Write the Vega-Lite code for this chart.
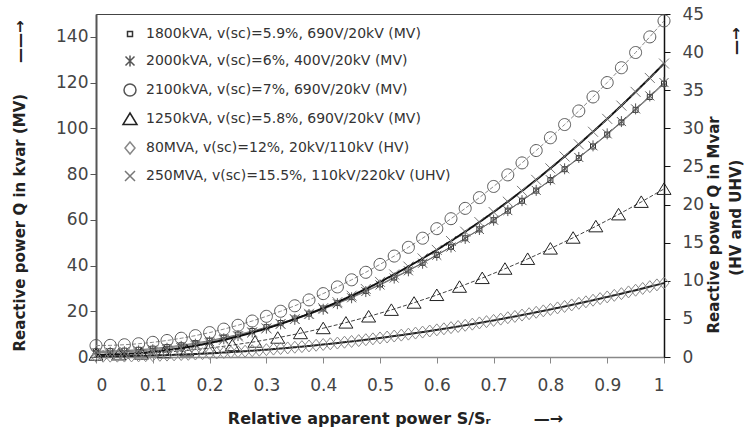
{
"$schema": "https://vega.github.io/schema/vega-lite/v6.json",
"width": 568, "height": 343,
"autosize": {"type": "none"},
"padding": {"left": 96, "top": 14, "right": 86, "bottom": 83},
"background": "white",
"config": {"font": "DejaVu Sans", "view": {"stroke": "#444", "strokeWidth": 1}, "axis": {"grid": false},
  "legend": {"labelLimit": 500}},
"data": {"values": [
{"k":"a","s":0,"q":2.5},{"k":"a","s":0.025,"q":2.57},{"k":"a","s":0.05,"q":2.79},{"k":"a","s":0.075,"q":3.16},{"k":"a","s":0.1,"q":3.67},{"k":"a","s":0.125,"q":4.33},{"k":"a","s":0.15,"q":5.13},{"k":"a","s":0.175,"q":6.08},{"k":"a","s":0.2,"q":7.18},{"k":"a","s":0.225,"q":8.42},{"k":"a","s":0.25,"q":9.81},{"k":"a","s":0.275,"q":11.35},{"k":"a","s":0.3,"q":13.03},{"k":"a","s":0.325,"q":14.86},{"k":"a","s":0.35,"q":16.83},{"k":"a","s":0.375,"q":18.95},{"k":"a","s":0.4,"q":21.22},{"k":"a","s":0.425,"q":23.63},{"k":"a","s":0.45,"q":26.19},{"k":"a","s":0.475,"q":28.9},{"k":"a","s":0.5,"q":31.75},{"k":"a","s":0.525,"q":34.75},{"k":"a","s":0.55,"q":37.89},{"k":"a","s":0.575,"q":41.18},{"k":"a","s":0.6,"q":44.62},{"k":"a","s":0.625,"q":48.2},{"k":"a","s":0.65,"q":51.93},{"k":"a","s":0.675,"q":55.81},{"k":"a","s":0.7,"q":59.83},{"k":"a","s":0.725,"q":64},{"k":"a","s":0.75,"q":68.31},{"k":"a","s":0.775,"q":72.77},{"k":"a","s":0.8,"q":77.38},{"k":"a","s":0.825,"q":82.13},{"k":"a","s":0.85,"q":87.03},{"k":"a","s":0.875,"q":92.08},{"k":"a","s":0.9,"q":97.27},{"k":"a","s":0.925,"q":102.61},{"k":"a","s":0.95,"q":108.09},{"k":"a","s":0.975,"q":113.72},{"k":"a","s":1,"q":119.5},
{"k":"b","s":0,"q":2},{"k":"b","s":0.025,"q":2.07},{"k":"b","s":0.05,"q":2.3},{"k":"b","s":0.075,"q":2.66},{"k":"b","s":0.1,"q":3.18},{"k":"b","s":0.125,"q":3.84},{"k":"b","s":0.15,"q":4.66},{"k":"b","s":0.175,"q":5.61},{"k":"b","s":0.2,"q":6.72},{"k":"b","s":0.225,"q":7.97},{"k":"b","s":0.25,"q":9.38},{"k":"b","s":0.275,"q":10.92},{"k":"b","s":0.3,"q":12.62},{"k":"b","s":0.325,"q":14.46},{"k":"b","s":0.35,"q":16.46},{"k":"b","s":0.375,"q":18.59},{"k":"b","s":0.4,"q":20.88},{"k":"b","s":0.425,"q":23.31},{"k":"b","s":0.45,"q":25.9},{"k":"b","s":0.475,"q":28.62},{"k":"b","s":0.5,"q":31.5},{"k":"b","s":0.525,"q":34.52},{"k":"b","s":0.55,"q":37.7},{"k":"b","s":0.575,"q":41.01},{"k":"b","s":0.6,"q":44.48},{"k":"b","s":0.625,"q":48.09},{"k":"b","s":0.65,"q":51.86},{"k":"b","s":0.675,"q":55.76},{"k":"b","s":0.7,"q":59.82},{"k":"b","s":0.725,"q":64.02},{"k":"b","s":0.75,"q":68.38},{"k":"b","s":0.775,"q":72.87},{"k":"b","s":0.8,"q":77.52},{"k":"b","s":0.825,"q":82.31},{"k":"b","s":0.85,"q":87.26},{"k":"b","s":0.875,"q":92.34},{"k":"b","s":0.9,"q":97.58},{"k":"b","s":0.925,"q":102.96},{"k":"b","s":0.95,"q":108.5},{"k":"b","s":0.975,"q":114.17},{"k":"b","s":1,"q":120},
{"k":"c","s":0,"q":5},{"k":"c","s":0.025,"q":5.09},{"k":"c","s":0.05,"q":5.36},{"k":"c","s":0.075,"q":5.8},{"k":"c","s":0.1,"q":6.42},{"k":"c","s":0.125,"q":7.22},{"k":"c","s":0.15,"q":8.2},{"k":"c","s":0.175,"q":9.35},{"k":"c","s":0.2,"q":10.68},{"k":"c","s":0.225,"q":12.19},{"k":"c","s":0.25,"q":13.88},{"k":"c","s":0.275,"q":15.74},{"k":"c","s":0.3,"q":17.78},{"k":"c","s":0.325,"q":20},{"k":"c","s":0.35,"q":22.4},{"k":"c","s":0.375,"q":24.97},{"k":"c","s":0.4,"q":27.72},{"k":"c","s":0.425,"q":30.65},{"k":"c","s":0.45,"q":33.76},{"k":"c","s":0.475,"q":37.04},{"k":"c","s":0.5,"q":40.5},{"k":"c","s":0.525,"q":44.14},{"k":"c","s":0.55,"q":47.96},{"k":"c","s":0.575,"q":51.95},{"k":"c","s":0.6,"q":56.12},{"k":"c","s":0.625,"q":60.47},{"k":"c","s":0.65,"q":65},{"k":"c","s":0.675,"q":69.7},{"k":"c","s":0.7,"q":74.58},{"k":"c","s":0.725,"q":79.64},{"k":"c","s":0.75,"q":84.88},{"k":"c","s":0.775,"q":90.29},{"k":"c","s":0.8,"q":95.88},{"k":"c","s":0.825,"q":101.65},{"k":"c","s":0.85,"q":107.6},{"k":"c","s":0.875,"q":113.72},{"k":"c","s":0.9,"q":120.02},{"k":"c","s":0.925,"q":126.5},{"k":"c","s":0.95,"q":133.16},{"k":"c","s":0.975,"q":139.99},{"k":"c","s":1,"q":147},
{"k":"d","s":0,"q":1},{"k":"d","s":0.04,"q":1.12},{"k":"d","s":0.08,"q":1.46},{"k":"d","s":0.12,"q":2.04},{"k":"d","s":0.16,"q":2.86},{"k":"d","s":0.2,"q":3.9},{"k":"d","s":0.24,"q":5.18},{"k":"d","s":0.28,"q":6.68},{"k":"d","s":0.32,"q":8.42},{"k":"d","s":0.36,"q":10.4},{"k":"d","s":0.4,"q":12.6},{"k":"d","s":0.44,"q":15.04},{"k":"d","s":0.48,"q":17.7},{"k":"d","s":0.52,"q":20.6},{"k":"d","s":0.56,"q":23.74},{"k":"d","s":0.6,"q":27.1},{"k":"d","s":0.64,"q":30.7},{"k":"d","s":0.68,"q":34.52},{"k":"d","s":0.72,"q":38.58},{"k":"d","s":0.76,"q":42.88},{"k":"d","s":0.8,"q":47.4},{"k":"d","s":0.84,"q":52.16},{"k":"d","s":0.88,"q":57.14},{"k":"d","s":0.92,"q":62.36},{"k":"d","s":0.96,"q":67.82},{"k":"d","s":1,"q":73.5},
{"k":"e","s":0,"q":0.1},{"k":"e","s":0.0125,"q":0.1},{"k":"e","s":0.025,"q":0.11},{"k":"e","s":0.0375,"q":0.11},{"k":"e","s":0.05,"q":0.12},{"k":"e","s":0.0625,"q":0.14},{"k":"e","s":0.075,"q":0.15},{"k":"e","s":0.0875,"q":0.17},{"k":"e","s":0.1,"q":0.2},{"k":"e","s":0.1125,"q":0.22},{"k":"e","s":0.125,"q":0.25},{"k":"e","s":0.1375,"q":0.28},{"k":"e","s":0.15,"q":0.32},{"k":"e","s":0.1625,"q":0.35},{"k":"e","s":0.175,"q":0.39},{"k":"e","s":0.1875,"q":0.44},{"k":"e","s":0.2,"q":0.48},{"k":"e","s":0.2125,"q":0.53},{"k":"e","s":0.225,"q":0.59},{"k":"e","s":0.2375,"q":0.64},{"k":"e","s":0.25,"q":0.7},{"k":"e","s":0.2625,"q":0.76},{"k":"e","s":0.275,"q":0.83},{"k":"e","s":0.2875,"q":0.89},{"k":"e","s":0.3,"q":0.96},{"k":"e","s":0.3125,"q":1.04},{"k":"e","s":0.325,"q":1.11},{"k":"e","s":0.3375,"q":1.19},{"k":"e","s":0.35,"q":1.28},{"k":"e","s":0.3625,"q":1.36},{"k":"e","s":0.375,"q":1.45},{"k":"e","s":0.3875,"q":1.54},{"k":"e","s":0.4,"q":1.64},{"k":"e","s":0.4125,"q":1.73},{"k":"e","s":0.425,"q":1.83},{"k":"e","s":0.4375,"q":1.94},{"k":"e","s":0.45,"q":2.04},{"k":"e","s":0.4625,"q":2.15},{"k":"e","s":0.475,"q":2.27},{"k":"e","s":0.4875,"q":2.38},{"k":"e","s":0.5,"q":2.5},{"k":"e","s":0.5125,"q":2.62},{"k":"e","s":0.525,"q":2.75},{"k":"e","s":0.5375,"q":2.87},{"k":"e","s":0.55,"q":3},{"k":"e","s":0.5625,"q":3.14},{"k":"e","s":0.575,"q":3.27},{"k":"e","s":0.5875,"q":3.41},{"k":"e","s":0.6,"q":3.56},{"k":"e","s":0.6125,"q":3.7},{"k":"e","s":0.625,"q":3.85},{"k":"e","s":0.6375,"q":4},{"k":"e","s":0.65,"q":4.16},{"k":"e","s":0.6625,"q":4.31},{"k":"e","s":0.675,"q":4.47},{"k":"e","s":0.6875,"q":4.64},{"k":"e","s":0.7,"q":4.8},{"k":"e","s":0.7125,"q":4.97},{"k":"e","s":0.725,"q":5.15},{"k":"e","s":0.7375,"q":5.32},{"k":"e","s":0.75,"q":5.5},{"k":"e","s":0.7625,"q":5.68},{"k":"e","s":0.775,"q":5.87},{"k":"e","s":0.7875,"q":6.05},{"k":"e","s":0.8,"q":6.24},{"k":"e","s":0.8125,"q":6.44},{"k":"e","s":0.825,"q":6.63},{"k":"e","s":0.8375,"q":6.83},{"k":"e","s":0.85,"q":7.04},{"k":"e","s":0.8625,"q":7.24},{"k":"e","s":0.875,"q":7.45},{"k":"e","s":0.8875,"q":7.66},{"k":"e","s":0.9,"q":7.88},{"k":"e","s":0.9125,"q":8.09},{"k":"e","s":0.925,"q":8.31},{"k":"e","s":0.9375,"q":8.54},{"k":"e","s":0.95,"q":8.76},{"k":"e","s":0.9625,"q":8.99},{"k":"e","s":0.975,"q":9.23},{"k":"e","s":0.9875,"q":9.46},{"k":"e","s":1,"q":9.7},
{"k":"f","s":0,"q":0.3},{"k":"f","s":0.025,"q":0.32},{"k":"f","s":0.05,"q":0.4},{"k":"f","s":0.075,"q":0.51},{"k":"f","s":0.1,"q":0.68},{"k":"f","s":0.125,"q":0.9},{"k":"f","s":0.15,"q":1.16},{"k":"f","s":0.175,"q":1.47},{"k":"f","s":0.2,"q":1.83},{"k":"f","s":0.225,"q":2.23},{"k":"f","s":0.25,"q":2.69},{"k":"f","s":0.275,"q":3.19},{"k":"f","s":0.3,"q":3.74},{"k":"f","s":0.325,"q":4.33},{"k":"f","s":0.35,"q":4.98},{"k":"f","s":0.375,"q":5.67},{"k":"f","s":0.4,"q":6.41},{"k":"f","s":0.425,"q":7.2},{"k":"f","s":0.45,"q":8.04},{"k":"f","s":0.475,"q":8.92},{"k":"f","s":0.5,"q":9.85},{"k":"f","s":0.525,"q":10.83},{"k":"f","s":0.55,"q":11.86},{"k":"f","s":0.575,"q":12.93},{"k":"f","s":0.6,"q":14.05},{"k":"f","s":0.625,"q":15.22},{"k":"f","s":0.65,"q":16.44},{"k":"f","s":0.675,"q":17.7},{"k":"f","s":0.7,"q":19.02},{"k":"f","s":0.725,"q":20.38},{"k":"f","s":0.75,"q":21.79},{"k":"f","s":0.775,"q":23.24},{"k":"f","s":0.8,"q":24.75},{"k":"f","s":0.825,"q":26.3},{"k":"f","s":0.85,"q":27.9},{"k":"f","s":0.875,"q":29.55},{"k":"f","s":0.9,"q":31.24},{"k":"f","s":0.925,"q":32.98},{"k":"f","s":0.95,"q":34.78},{"k":"f","s":0.975,"q":36.61},{"k":"f","s":1,"q":38.5}
]},
"encoding": {
  "x": {"field": "s", "type": "quantitative", "scale": {"domain": [0, 1], "nice": false},
    "axis": {"values": [0,0.1,0.2,0.3,0.4,0.5,0.6,0.7,0.8,0.9,1], "format": "~g", "labelFontSize": 17, "labelColor": "#444", "tickSize": 6, "tickColor": "#888", "domainColor": "#888", "domainWidth": 1.5, "labelPadding": 14,
      "title": "Relative apparent power S/Sᵣ\u2003\u2003\u00a0\u00a0—→", "titleFontSize": 16, "titleFontWeight": "bold", "titleColor": "#222", "titlePadding": 17, "titleX": 299}}
},
"layer": [
  {"transform": [{"filter": "datum.k !== 'e' && datum.k !== 'f'"}],
   "encoding": {"y": {"field": "q", "type": "quantitative", "scale": {"domain": [0, 150], "nice": false},
     "axis": {"orient": "left", "values": [0,20,40,60,80,100,120,140], "labelFontSize": 17, "labelColor": "#444", "tickSize": 6, "tickColor": "#555", "domainColor": "#555", "domainWidth": 2, "labelPadding": 2,
       "title": "Reactive power Q in kvar (MV)\u2003\u00a0\u00a0\u00a0——→", "titleFontSize": 15, "titleFontWeight": "bold", "titleColor": "#222", "titlePadding": 28}}},
   "layer": [
     {"mark": {"type": "line"},
      "encoding": {
        "stroke": {"field": "k", "type": "nominal", "scale": {"domain": ["f","e","d","c","b","a"], "range": ["#111111","#222222","#444444","#888888","#666666","#555555"]}, "legend": null},
        "strokeDash": {"condition": {"test": "datum.k === 'c' || datum.k === 'd'", "value": [4, 2]}, "value": [1, 0]},
        "strokeWidth": {"condition": {"test": "datum.k === 'e' || datum.k === 'f'", "value": 2}, "value": 1}}},
     {"mark": {"type": "point", "filled": false, "opacity": 1, "size": 100, "strokeWidth": 1},
      "encoding": {
        "color": {"field": "k", "type": "nominal", "scale": {"domain": ["a","b","c","d","e","f"], "range": ["#333333","#555555","#555555","#222222","#888888","#777777"]},
          "legend": {"title": null, "orient": "none", "legendX": 27, "legendY": 13, "labelFont": "DejaVu Sans", "labelFontSize": 14, "labelColor": "#333", "rowPadding": 11, "labelOffset": 9, "padding": 0, "labelLimit": 500,
            "labelExpr": "datum.value==='a' ? '1800kVA, v(sc)=5.9%, 690V/20kV (MV)' : datum.value==='b' ? '2000kVA, v(sc)=6%, 400V/20kV (MV)' : datum.value==='c' ? '2100kVA, v(sc)=7%, 690V/20kV (MV)' : datum.value==='d' ? '1250kVA, v(sc)=5.8%, 690V/20kV (MV)' : datum.value==='e' ? '80MVA, v(sc)=12%, 20kV/110kV (HV)' : '250MVA, v(sc)=15.5%, 110kV/220kV (UHV)'"}},
        "shape": {"field": "k", "type": "nominal", "scale": {"domain": ["a","b","c","d","e","f"], "range": ["M-0.5,-0.5H0.5V0.5H-0.5Z","M-0.9,-0.9L0.9,0.9M-0.9,0.9L0.9,-0.9M0,-1.1V1.1","M-1.2,0A1.2,1.2,0,1,0,1.2,0A1.2,1.2,0,1,0,-1.2,0Z","M0,-1.2L1.4,1.1H-1.4Z","M0,-1.2L1,0L0,1.2L-1,0Z","M-1,-1L1,1M-1,1L1,-1"]},
          "legend": {"title": null, "orient": "none", "legendX": 27, "legendY": 13, "labelFont": "DejaVu Sans", "labelFontSize": 14, "labelColor": "#333", "rowPadding": 11, "labelOffset": 9, "padding": 0, "labelLimit": 500,
            "labelExpr": "datum.value==='a' ? '1800kVA, v(sc)=5.9%, 690V/20kV (MV)' : datum.value==='b' ? '2000kVA, v(sc)=6%, 400V/20kV (MV)' : datum.value==='c' ? '2100kVA, v(sc)=7%, 690V/20kV (MV)' : datum.value==='d' ? '1250kVA, v(sc)=5.8%, 690V/20kV (MV)' : datum.value==='e' ? '80MVA, v(sc)=12%, 20kV/110kV (HV)' : '250MVA, v(sc)=15.5%, 110kV/220kV (UHV)'"}}}}
   ]},
  {"transform": [{"filter": "datum.k === 'e' || datum.k === 'f'"}],
   "encoding": {"y": {"field": "q", "type": "quantitative", "scale": {"domain": [0, 45], "nice": false},
     "axis": {"orient": "right", "values": [0,5,10,15,20,25,30,35,40,45], "labelFontSize": 17, "labelColor": "#444", "tickSize": 6, "tickColor": "#111", "domainColor": "#111", "domainWidth": 1.5, "labelPadding": 12,
       "title": ["Reactive power Q in Mvar\u00a0\u00a0\u00a0\u00a0\u00a0\u00a0\u00a0\u00a0\u00a0\u00a0\u00a0\u00a0\u00a0\u00a0\u00a0\u00a0\u00a0\u200b", "(HV and UHV)\u00a0\u00a0\u00a0\u00a0\u00a0\u00a0\u00a0\u00a0\u00a0\u00a0\u00a0\u00a0\u00a0\u00a0\u00a0\u00a0\u00a0\u00a0\u00a0\u00a0—→"], "titleFontSize": 15, "titleFontWeight": "bold", "titleColor": "#222", "titleAngle": 270, "titleAlign": "right", "titleBaseline": "middle", "titleY": 13, "titleX": 49, "titleLineHeight": 22, "titleLimit": 1000}}},
   "layer": [
     {"mark": {"type": "line"},
      "encoding": {
        "stroke": {"field": "k", "type": "nominal", "scale": {"domain": ["f","e","d","c","b","a"], "range": ["#111111","#222222","#444444","#888888","#666666","#555555"]}, "legend": null},
        "strokeDash": {"condition": {"test": "datum.k === 'c' || datum.k === 'd'", "value": [4, 2]}, "value": [1, 0]},
        "strokeWidth": {"condition": {"test": "datum.k === 'e' || datum.k === 'f'", "value": 2}, "value": 1}}},
     {"mark": {"type": "point", "filled": false, "opacity": 1, "size": 100, "strokeWidth": 1},
      "encoding": {
        "color": {"field": "k", "type": "nominal", "scale": {"domain": ["a","b","c","d","e","f"], "range": ["#333333","#555555","#555555","#222222","#888888","#777777"]}},
        "shape": {"field": "k", "type": "nominal", "scale": {"domain": ["a","b","c","d","e","f"], "range": ["M-0.5,-0.5H0.5V0.5H-0.5Z","M-0.9,-0.9L0.9,0.9M-0.9,0.9L0.9,-0.9M0,-1.1V1.1","M-1.2,0A1.2,1.2,0,1,0,1.2,0A1.2,1.2,0,1,0,-1.2,0Z","M0,-1.2L1.4,1.1H-1.4Z","M0,-1.2L1,0L0,1.2L-1,0Z","M-1,-1L1,1M-1,1L1,-1"]}}}}
   ]}
],
"resolve": {"scale": {"y": "independent"}}
}
